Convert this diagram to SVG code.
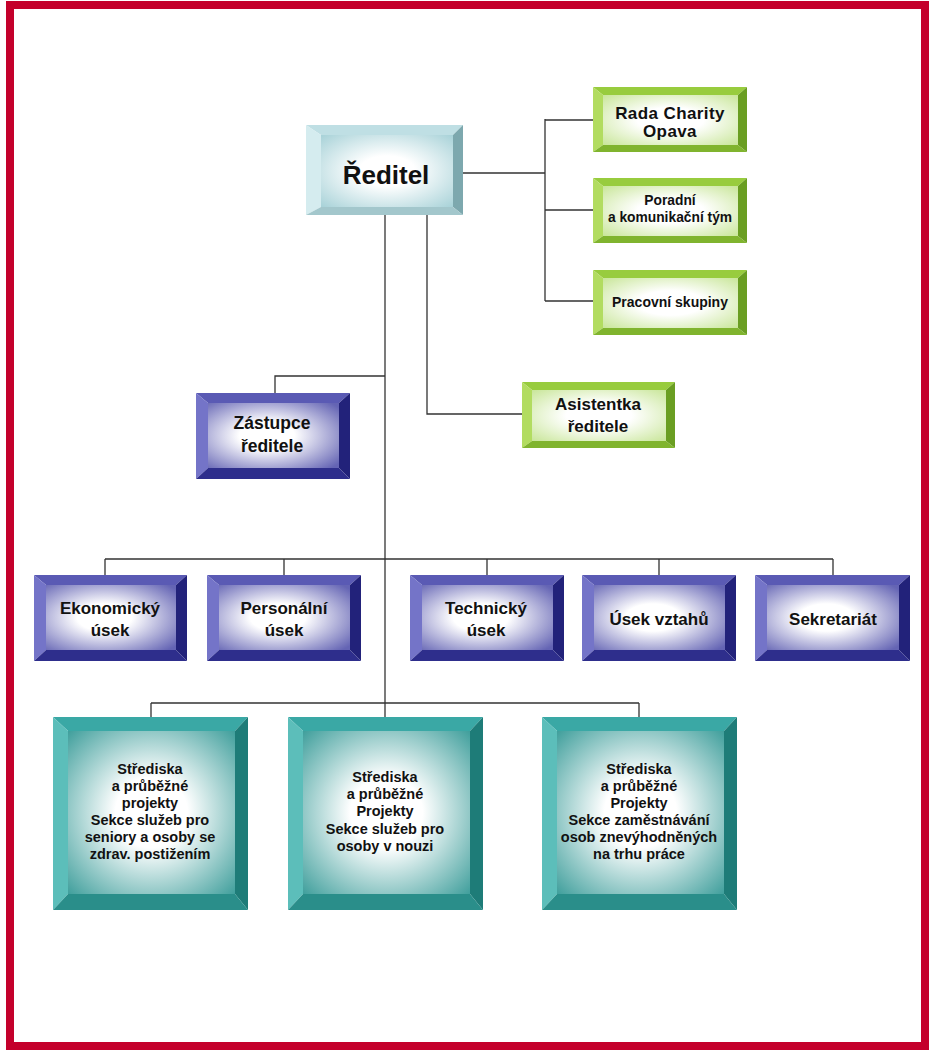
<svg xmlns="http://www.w3.org/2000/svg" width="931" height="1051" viewBox="0 0 931 1051">
<style>
text{font-family:"Liberation Sans",Arial,sans-serif;font-weight:bold;fill:#111;text-anchor:middle}
.conn{fill:none;stroke:#333;stroke-width:1.3}
.bt-t{fill:#BFDFE4}.bt-l{fill:#D5ECEF}.bt-r{fill:#7DA8AE}.bt-b{fill:#A3C7CC}
.g-t{fill:#98CC3E}.g-l{fill:#B2DC60}.g-r{fill:#6A9E22}.g-b{fill:#80B42E}
.p-t{fill:#5A5AB4}.p-l{fill:#7474C8}.p-r{fill:#22227A}.p-b{fill:#2E2E8C}
.t-t{fill:#3AA8A5}.t-l{fill:#5CBEBA}.t-r{fill:#1E7C78}.t-b{fill:#2A8E8A}
</style>
<defs>
<radialGradient id="gBlue" cx="50%" cy="50%" r="70%"><stop offset="0.3" stop-color="#fff"/><stop offset="1" stop-color="#A8D2D8"/></radialGradient>
<radialGradient id="gGreen" cx="50%" cy="50%" r="70%"><stop offset="0.35" stop-color="#fff"/><stop offset="1" stop-color="#C9E69A"/></radialGradient>
<radialGradient id="gPurple" cx="45%" cy="50%" r="70%"><stop offset="0.3" stop-color="#fff"/><stop offset="1" stop-color="#6464B4"/></radialGradient>
<radialGradient id="gTeal" cx="50%" cy="50%" r="72%"><stop offset="0.3" stop-color="#fff"/><stop offset="1" stop-color="#3A9C99"/></radialGradient>
</defs>
<rect x="0" y="0" width="931" height="1051" fill="#fff"/>
<rect x="10" y="5" width="915" height="1041" fill="none" stroke="#C4002B" stroke-width="8"/>

<g id="connectors" class="conn">
<path d="M463,173 H545 M545,119 V301 M545,120 H593 M545,210 H593 M545,301 H593"/>
<path d="M385,215 V717"/>
<path d="M427,215 V414 H522"/>
<path d="M385,376 H275 V393"/>
<path d="M105,559 H833 M105,559 V575 M284,559 V575 M487,559 V575 M659,559 V575 M833,559 V575"/>
<path d="M151,703 H639 M151,703 V717 M639,703 V717"/>
</g>

<g id="n-reditel">
<polygon class="bt-t" points="306,125 463,125 453,135 321,135"/>
<polygon class="bt-l" points="306,125 321,135 321,207 306,215"/>
<polygon class="bt-r" points="463,125 463,215 453,207 453,135"/>
<polygon class="bt-b" points="306,215 463,215 453,207 321,207"/>
<rect x="321" y="135" width="132" height="72" fill="url(#gBlue)"/>
<text x="386" y="184" font-size="26">Ředitel</text>
</g>

<g id="n-rada">
<polygon class="g-t" points="593,87 747,87 738,95 603,95"/>
<polygon class="g-l" points="593,87 603,95 603,145 593,152"/>
<polygon class="g-r" points="747,87 747,152 738,145 738,95"/>
<polygon class="g-b" points="593,152 747,152 738,145 603,145"/>
<rect x="603" y="95" width="135" height="50" fill="url(#gGreen)"/>
<text x="670" y="119" font-size="17" letter-spacing="0.4">Rada Charity</text>
<text x="670" y="137" font-size="17" letter-spacing="0.4">Opava</text>
</g>

<g id="n-poradni">
<polygon class="g-t" points="593,178 747,178 738,186 603,186"/>
<polygon class="g-l" points="593,178 603,186 603,236 593,243"/>
<polygon class="g-r" points="747,178 747,243 738,236 738,186"/>
<polygon class="g-b" points="593,243 747,243 738,236 603,236"/>
<rect x="603" y="186" width="135" height="50" fill="url(#gGreen)"/>
<text x="670" y="205" font-size="13.8">Poradní</text>
<text x="670" y="222" font-size="13.8">a komunikační tým</text>
</g>

<g id="n-pracovni">
<polygon class="g-t" points="593,270 747,270 738,278 603,278"/>
<polygon class="g-l" points="593,270 603,278 603,328 593,335"/>
<polygon class="g-r" points="747,270 747,335 738,328 738,278"/>
<polygon class="g-b" points="593,335 747,335 738,328 603,328"/>
<rect x="603" y="278" width="135" height="50" fill="url(#gGreen)"/>
<text x="670" y="307" font-size="14">Pracovní skupiny</text>
</g>

<g id="n-asistentka">
<polygon class="g-t" points="522,382 675,382 666,390 532,390"/>
<polygon class="g-l" points="522,382 532,390 532,441 522,448"/>
<polygon class="g-r" points="675,382 675,448 666,441 666,390"/>
<polygon class="g-b" points="522,448 675,448 666,441 532,441"/>
<rect x="532" y="390" width="134" height="51" fill="url(#gGreen)"/>
<text x="598" y="410" font-size="17">Asistentka</text>
<text x="598" y="432" font-size="17">ředitele</text>
</g>

<g id="n-zastupce">
<polygon class="p-t" points="196,393 350,393 339,403 208,403"/>
<polygon class="p-l" points="196,393 208,403 208,468 196,479"/>
<polygon class="p-r" points="350,393 350,479 339,468 339,403"/>
<polygon class="p-b" points="196,479 350,479 339,468 208,468"/>
<rect x="208" y="403" width="131" height="65" fill="url(#gPurple)"/>
<text x="272" y="429" font-size="17.5">Zástupce</text>
<text x="272" y="452" font-size="17.5">ředitele</text>
</g>

<g id="n-ekonomicky">
<polygon class="p-t" points="34,575 187,575 176,585 46,585"/>
<polygon class="p-l" points="34,575 46,585 46,650 34,661"/>
<polygon class="p-r" points="187,575 187,661 176,650 176,585"/>
<polygon class="p-b" points="34,661 187,661 176,650 46,650"/>
<rect x="46" y="585" width="130" height="65" fill="url(#gPurple)"/>
<text x="110" y="614" font-size="17">Ekonomický</text>
<text x="110" y="636" font-size="17">úsek</text>
</g>

<g id="n-personalni">
<polygon class="p-t" points="207,575 361,575 350,585 219,585"/>
<polygon class="p-l" points="207,575 219,585 219,650 207,661"/>
<polygon class="p-r" points="361,575 361,661 350,650 350,585"/>
<polygon class="p-b" points="207,661 361,661 350,650 219,650"/>
<rect x="219" y="585" width="131" height="65" fill="url(#gPurple)"/>
<text x="284" y="614" font-size="17">Personální</text>
<text x="284" y="636" font-size="17">úsek</text>
</g>

<g id="n-technicky">
<polygon class="p-t" points="410,575 564,575 553,585 422,585"/>
<polygon class="p-l" points="410,575 422,585 422,650 410,661"/>
<polygon class="p-r" points="564,575 564,661 553,650 553,585"/>
<polygon class="p-b" points="410,661 564,661 553,650 422,650"/>
<rect x="422" y="585" width="131" height="65" fill="url(#gPurple)"/>
<text x="486" y="614" font-size="17">Technický</text>
<text x="486" y="636" font-size="17">úsek</text>
</g>

<g id="n-usek-vztahu">
<polygon class="p-t" points="582,575 736,575 725,585 594,585"/>
<polygon class="p-l" points="582,575 594,585 594,650 582,661"/>
<polygon class="p-r" points="736,575 736,661 725,650 725,585"/>
<polygon class="p-b" points="582,661 736,661 725,650 594,650"/>
<rect x="594" y="585" width="131" height="65" fill="url(#gPurple)"/>
<text x="659" y="625" font-size="17">Úsek vztahů</text>
</g>

<g id="n-sekretariat">
<polygon class="p-t" points="755,575 910,575 899,585 767,585"/>
<polygon class="p-l" points="755,575 767,585 767,650 755,661"/>
<polygon class="p-r" points="910,575 910,661 899,650 899,585"/>
<polygon class="p-b" points="755,661 910,661 899,650 767,650"/>
<rect x="767" y="585" width="132" height="65" fill="url(#gPurple)"/>
<text x="833" y="625" font-size="17">Sekretariát</text>
</g>

<g id="n-strediska-seniori">
<polygon class="t-t" points="53,717 248,717 235,731 68,731"/>
<polygon class="t-l" points="53,717 68,731 68,894 53,910"/>
<polygon class="t-r" points="248,717 248,910 235,894 235,731"/>
<polygon class="t-b" points="53,910 248,910 235,894 68,894"/>
<rect x="68" y="731" width="167" height="163" fill="url(#gTeal)"/>
<g font-size="14.5">
<text x="150" y="774">Střediska</text>
<text x="150" y="791">a průběžné</text>
<text x="150" y="808">projekty</text>
<text x="150" y="825">Sekce služeb pro</text>
<text x="150" y="842">seniory a osoby se</text>
<text x="150" y="859">zdrav. postižením</text>
</g>
</g>

<g id="n-strediska-nouze">
<polygon class="t-t" points="288,717 483,717 470,731 303,731"/>
<polygon class="t-l" points="288,717 303,731 303,894 288,910"/>
<polygon class="t-r" points="483,717 483,910 470,894 470,731"/>
<polygon class="t-b" points="288,910 483,910 470,894 303,894"/>
<rect x="303" y="731" width="167" height="163" fill="url(#gTeal)"/>
<g font-size="14.5">
<text x="385" y="782">Střediska</text>
<text x="385" y="799">a průběžné</text>
<text x="385" y="816">Projekty</text>
<text x="385" y="834">Sekce služeb pro</text>
<text x="385" y="851">osoby v nouzi</text>
</g>
</g>

<g id="n-strediska-zamestnavani">
<polygon class="t-t" points="542,717 737,717 724,731 557,731"/>
<polygon class="t-l" points="542,717 557,731 557,894 542,910"/>
<polygon class="t-r" points="737,717 737,910 724,894 724,731"/>
<polygon class="t-b" points="542,910 737,910 724,894 557,894"/>
<rect x="557" y="731" width="167" height="163" fill="url(#gTeal)"/>
<g font-size="14.5">
<text x="639" y="774">Střediska</text>
<text x="639" y="791">a průběžné</text>
<text x="639" y="808">Projekty</text>
<text x="639" y="825">Sekce zaměstnávání</text>
<text x="639" y="842">osob znevýhodněných</text>
<text x="639" y="859">na trhu práce</text>
</g>
</g>
</svg>
